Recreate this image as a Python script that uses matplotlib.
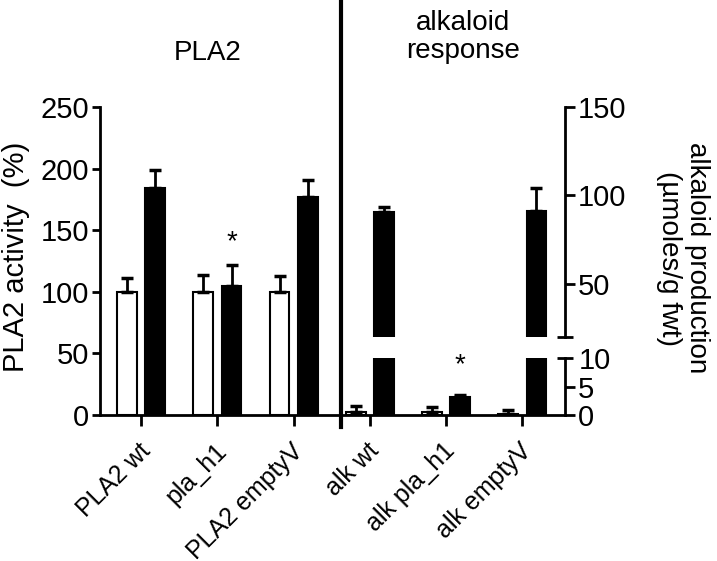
import numpy as np
import matplotlib
matplotlib.use('Agg')
import matplotlib.pyplot as plt
import matplotlib.transforms as mtransforms

plt.rcParams['font.family'] = ['Liberation Sans', 'DejaVu Sans']

# Data
groups = ['PLA2 wt', 'pla_h1', 'PLA2 emptyV', 'alk wt', 'alk pla_h1', 'alk emptyV']
pla_white = [100, 100, 100]
pla_white_err = [11, 13.5, 12.5]
pla_black = [184, 105, 177]
pla_black_err = [15, 17, 14]
alk_white = [0.5, 0.5, 0.1]
alk_white_err = [1.0, 0.9, 0.8]
alk_black = [90.7, 3.1, 91.4]
alk_black_err = [2.6, 0.5, 12.7]

x = np.arange(len(groups))
xp = x[:3]
xa = x[3:]
w = 0.26
off = 0.185

fig = plt.figure(figsize=(7.17, 5.61), dpi=100)
ax = fig.add_axes([0.1395, 0.2602, 0.6485, 0.549])
ax_lo = fig.add_axes([0.1395, 0.2602, 0.6485, 0.1016])
ax_hi = fig.add_axes([0.1395, 0.3993, 0.6485, 0.41])

xlim = (-0.54, 5.56)
err_kw = dict(ecolor='black', elinewidth=2, capsize=4.5, capthick=2.5)

# left part: PLA2 activity
ax.bar(xp - off, pla_white, w, color='white', edgecolor='black', linewidth=1.5,
       yerr=[np.zeros(3), pla_white_err], error_kw=err_kw, zorder=2)
ax.bar(xp + off, pla_black, w, color='black', edgecolor='black', linewidth=1.5,
       yerr=[np.zeros(3), pla_black_err], error_kw=err_kw, zorder=2)
ax.text(xp[1] + off, 140, '*', ha='center', va='center', fontsize=20)
ax.set_xlim(xlim)
ax.set_ylim(0, 250)
ax.set_yticks([0, 50, 100, 150, 200, 250])
ax.set_xticks(x)
ax.spines['top'].set_visible(False)
ax.spines['right'].set_visible(False)
for s in ['left', 'bottom']:
    ax.spines[s].set_linewidth(2)
ax.tick_params(axis='y', labelsize=21, width=2, length=6, pad=2)
ax.tick_params(axis='x', labelsize=18, width=2, length=8, pad=2)
ax.set_xticklabels(groups, rotation=45, ha='right', va='top', rotation_mode='anchor')
# nudge the rotated labels (after tick_params, which resets transforms)
shift = mtransforms.ScaledTranslation(-3/100, -10/100, fig.dpi_scale_trans)
for lab in ax.get_xticklabels():
    lab.set_transform(lab.get_transform() + shift)

# right part: alkaloid production, broken axis
for a in (ax_lo, ax_hi):
    a.patch.set_visible(False)
    a.bar(xa - off, alk_white, w, color='white', edgecolor='black', linewidth=1.5,
          yerr=[np.zeros(3), alk_white_err], error_kw=err_kw, zorder=2)
    a.bar(xa + off, alk_black, w, color='black', edgecolor='black', linewidth=1.5,
          yerr=[np.zeros(3), alk_black_err], error_kw=err_kw, zorder=2)
    a.set_xlim(xlim)
    a.set_xticks([])
    for s in ['top', 'left', 'bottom']:
        a.spines[s].set_visible(False)
    a.spines['right'].set_linewidth(2)
    a.yaxis.tick_right()
    a.tick_params(axis='y', labelsize=21, width=2, length=7, pad=2)
    a.tick_params(axis='y', which='minor', direction='inout', width=2, length=12)

ax_lo.set_ylim(0, 10)
ax_lo.set_yticks([0, 5])
ax_lo.set_yticks([10], labels=['10'], minor=True)
ax_lo.tick_params(axis='y', which='minor', labelsize=21, labelright=True, labelleft=False, pad=4)
ax_lo.text(xa[1] + off, 8.7, '*', ha='center', va='center', fontsize=20)

ax_hi.set_ylim(20, 150)
ax_hi.set_yticks([50, 100, 150])
ax_hi.set_yticks([20], minor=True)
ax_hi.tick_params(axis='y', which='minor', labelright=False, labelleft=False)

# divider between the two panels
ax.axvline(2.62, ymin=-0.04, ymax=1.34, color='black', linewidth=3, clip_on=False)

# titles and axis labels
fig.text(208/717, 1 - 53/561, 'PLA2', ha='center', va='center', fontsize=20)
fig.text(463/717, 1 - 37/561, 'alkaloid\nresponse', ha='center', va='center',
         fontsize=20, linespacing=1.15)
fig.text(16/717, 1 - 257/561, 'PLA2 activity  (%)', ha='center', va='center',
         rotation=90, fontsize=21)
fig.text(683/717, 1 - 258/561, 'alkaloid production\n(\u00b5moles/g fwt)', ha='center',
         va='center', rotation=-90, fontsize=20, linespacing=1.1)

fig.savefig('out.png', dpi=100)
